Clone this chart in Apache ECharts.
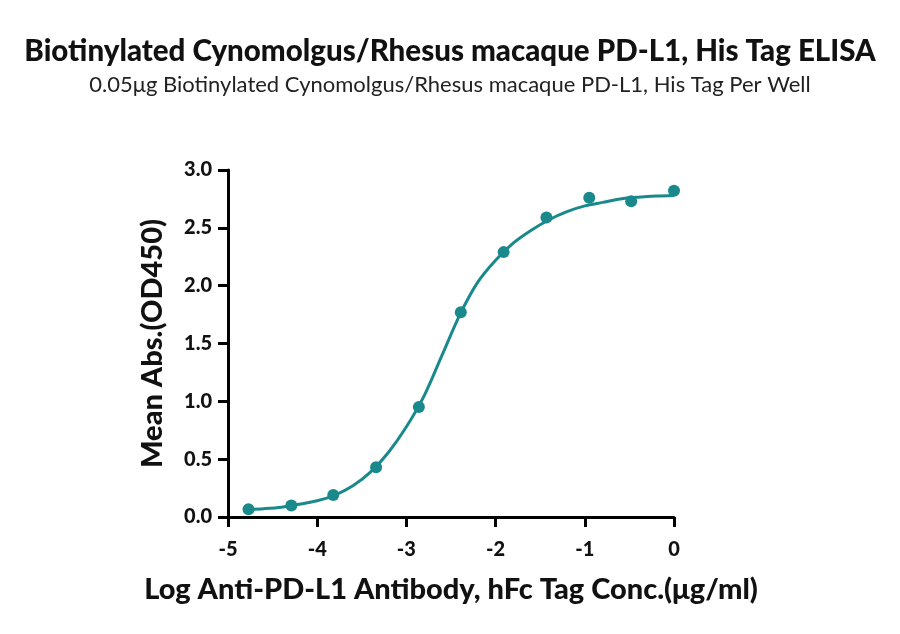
<!DOCTYPE html>
<html>
<head>
<meta charset="utf-8">
<script src="https://cdn.jsdelivr.net/npm/echarts@6/dist/echarts.min.js"></script>
<style>
    html, body { margin: 0; padding: 0; background: #fff; }
    #chart1 { width: 900px; height: 634px; }
</style>
</head>
<body>
<div id="chart1"></div>
<script>
// 测量点 (log 浓度, OD450)
var pointX = [-4.77, -4.29, -3.82, -3.34, -2.86, -2.39, -1.91, -1.43, -0.95, -0.48, 0];
var pointY = [0.066, 0.10, 0.19, 0.43, 0.95, 1.77, 2.29, 2.59, 2.76, 2.73, 2.82];

// 拟合曲线
var curveX = [-4.77, -4.6, -4.4, -4.2, -4.0, -3.8, -3.6, -3.4, -3.2, -3.0, -2.8, -2.6, -2.4,
              -2.2, -2.0, -1.8, -1.6, -1.4, -1.2, -1.0, -0.8, -0.6, -0.4, -0.2, 0];
var curveY = [0.065, 0.072, 0.085, 0.11, 0.14, 0.19, 0.27, 0.39, 0.56, 0.78, 1.05, 1.40, 1.75,
              2.03, 2.22, 2.37, 2.48, 2.57, 2.64, 2.69, 2.72, 2.75, 2.765, 2.775, 2.78];

var xTicks = [-5, -4, -3, -2, -1, 0];
var yTicks = [0, 0.5, 1, 1.5, 2, 2.5, 3];

var chart1 = echarts.init(document.getElementById("chart1"));

var fontName = 'Lato';
var teal = '#19898b';

function zip(xs, ys) {
    var out = [];
    for (var i = 0; i < xs.length; i++) {
        out.push([xs[i], ys[i]]);
    }
    return out;
}

chart1.setOption({
    animation: false,
    title: [
        {
            text: 'Biotinylated Cynomolgus/Rhesus macaque PD-L1, His Tag ELISA',
            left: 'center',
            top: 31,
            textStyle: {
                fontFamily: fontName,
                fontWeight: 900,
                fontSize: 29.5,
                color: '#111'
            }
        },
        {
            text: '0.05\u03bcg Biotinylated Cynomolgus/Rhesus macaque PD-L1, His Tag Per Well',
            left: 'center',
            top: 69,
            textStyle: {
                fontFamily: fontName,
                fontWeight: 'normal',
                fontSize: 22,
                color: '#222'
            }
        }
    ],
    grid: {
        left: 228,
        right: 226,
        top: 170,
        bottom: 117
    },
    xAxis: {
        type: 'value',
        min: xTicks[0],
        max: xTicks[xTicks.length - 1],
        interval: 1,
        name: 'Log Anti-PD-L1 Antibody, hFc Tag Conc.(\u03bcg/ml)',
        nameLocation: 'middle',
        nameGap: 58,
        nameTextStyle: {
            fontFamily: fontName,
            fontWeight: 900,
            fontSize: 29,
            color: '#111'
        },
        axisLine: { onZero: false, lineStyle: { color: '#000', width: 3 } },
        axisTick: { length: 10, lineStyle: { color: '#000', width: 3 } },
        axisLabel: {
            margin: 23,
            fontFamily: fontName,
            fontWeight: 900,
            fontSize: 20,
            color: '#111'
        },
        splitLine: { show: false }
    },
    yAxis: {
        type: 'value',
        min: yTicks[0],
        max: yTicks[yTicks.length - 1],
        interval: 0.5,
        name: 'Mean Abs.(OD450)',
        nameLocation: 'middle',
        nameGap: 61,
        nameTextStyle: {
            fontFamily: fontName,
            fontWeight: 900,
            fontSize: 29,
            color: '#111'
        },
        axisLine: { show: true, onZero: false, lineStyle: { color: '#000', width: 3 } },
        axisTick: { show: true, length: 10, lineStyle: { color: '#000', width: 3 } },
        axisLabel: {
            margin: 16,
            fontFamily: fontName,
            fontWeight: 900,
            fontSize: 20,
            color: '#111',
            formatter: function (v) { return v.toFixed(1); }
        },
        splitLine: { show: false }
    },
    series: [
        {
            name: 'fit',
            type: 'line',
            data: zip(curveX, curveY),
            smooth: 0.3,
            showSymbol: false,
            lineStyle: { color: teal, width: 3 },
            z: 2
        },
        {
            name: 'points',
            type: 'scatter',
            data: zip(pointX, pointY),
            symbolSize: 12,
            itemStyle: { color: teal, opacity: 1 },
            z: 3
        }
    ]
});
</script>
</body>
</html>
